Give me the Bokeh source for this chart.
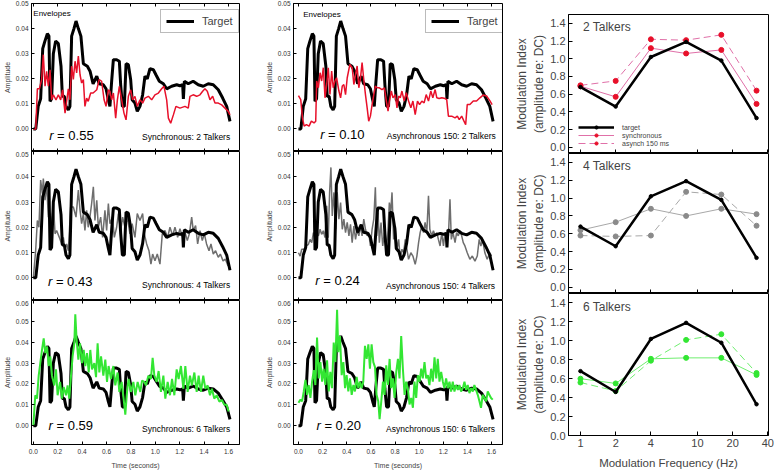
from bokeh.plotting import figure
from bokeh.layouts import row, column
from bokeh.models import (FixedTicker, NumeralTickFormatter, LinearAxis, Legend,
                          LegendItem, Label, Range1d, CustomJSTickFormatter)
from bokeh.embed import file_html
from bokeh.resources import INLINE

FONT = "Liberation Sans"

# ---------------- envelope data (time s, amplitude) ----------------
target_env = [(0.00, 0.000), (0.02, 0.000), (0.04, 0.009), (0.06, 0.012), (0.077, 0.032), (0.095, 0.035),
              (0.115, 0.038), (0.128, 0.037), (0.137, 0.011), (0.15, 0.012), (0.164, 0.030), (0.183, 0.035),
              (0.205, 0.034), (0.227, 0.025), (0.238, 0.013), (0.254, 0.013), (0.268, 0.009), (0.287, 0.0076),
              (0.30, 0.009), (0.314, 0.037), (0.333, 0.040), (0.35, 0.043), (0.369, 0.040), (0.39, 0.037),
              (0.41, 0.026), (0.443, 0.025), (0.465, 0.023), (0.49, 0.018), (0.52, 0.021), (0.54, 0.018),
              (0.574, 0.0176), (0.596, 0.016), (0.615, 0.0116), (0.628, 0.009), (0.642, 0.019), (0.656, 0.0276),
              (0.683, 0.0276), (0.705, 0.027), (0.716, 0.0176), (0.73, 0.009), (0.746, 0.009), (0.76, 0.026),
              (0.779, 0.0256), (0.798, 0.0196), (0.81, 0.0116), (0.833, 0.0103), (0.852, 0.007), (0.874, 0.009),
              (0.896, 0.0136), (0.915, 0.021), (0.934, 0.020), (0.956, 0.024), (0.984, 0.0236), (1.005, 0.0216),
              (1.033, 0.019), (1.066, 0.018), (1.093, 0.016), (1.134, 0.017), (1.175, 0.0176), (1.202, 0.0172),
              (1.224, 0.0176), (1.23, 0.012), (1.238, 0.019), (1.27, 0.018), (1.31, 0.019), (1.352, 0.0176),
              (1.393, 0.017), (1.434, 0.018), (1.475, 0.0176), (1.516, 0.0156), (1.552, 0.0123), (1.585, 0.009),
              (1.612, 0.003)]

sync2_env = [(0.00, 0.000), (0.02, 0.000), (0.033, 0.016), (0.05, 0.016), (0.068, 0.0196), (0.082, 0.0296),
             (0.096, 0.017), (0.109, 0.023), (0.123, 0.017), (0.137, 0.0236), (0.15, 0.0116), (0.164, 0.0136),
             (0.186, 0.0116), (0.205, 0.0136), (0.224, 0.0116), (0.24, 0.0156), (0.26, 0.0063), (0.273, 0.011),
             (0.287, 0.016), (0.30, 0.0116), (0.314, 0.025), (0.328, 0.0197), (0.342, 0.027), (0.355, 0.0223),
             (0.369, 0.029), (0.383, 0.0216), (0.396, 0.0183), (0.41, 0.0197), (0.423, 0.009), (0.437, 0.0123),
             (0.45, 0.011), (0.47, 0.0143), (0.49, 0.0143), (0.52, 0.0156), (0.54, 0.0197), (0.56, 0.019),
             (0.58, 0.0116), (0.596, 0.009), (0.615, 0.0156), (0.628, 0.015), (0.642, 0.0116), (0.656, 0.0143),
             (0.675, 0.0043), (0.689, 0.0116), (0.705, 0.017), (0.724, 0.0116), (0.743, 0.0063), (0.76, 0.0036),
             (0.779, 0.013), (0.798, 0.0156), (0.814, 0.0116), (0.833, 0.013), (0.852, 0.009), (0.874, 0.0116),
             (0.896, 0.0103), (0.915, 0.0123), (0.943, 0.013), (0.97, 0.0116), (0.997, 0.0136), (1.025, 0.0143),
             (1.052, 0.016), (1.071, 0.017), (1.093, 0.0116), (1.107, 0.0043), (1.126, 0.0023), (1.148, 0.0056),
             (1.169, 0.009), (1.202, 0.0083), (1.243, 0.009), (1.27, 0.0083), (1.284, 0.013), (1.31, 0.0136),
             (1.339, 0.013), (1.366, 0.0136), (1.388, 0.015), (1.407, 0.016), (1.426, 0.015), (1.448, 0.0116),
             (1.47, 0.013), (1.489, 0.0103), (1.516, 0.0103), (1.544, 0.0096), (1.571, 0.0083), (1.598, 0.007),
             (1.612, 0.0056)]

sync4_env = [(0.00, 0.000), (0.019, 0.0107), (0.033, 0.0227), (0.046, 0.020), (0.06, 0.0387), (0.074, 0.0333),
             (0.082, 0.0393), (0.096, 0.0307), (0.109, 0.0373), (0.123, 0.024), (0.137, 0.0254), (0.15, 0.020),
             (0.164, 0.030), (0.178, 0.0174), (0.191, 0.0187), (0.213, 0.016), (0.232, 0.0134), (0.246, 0.016),
             (0.26, 0.0114), (0.273, 0.0134), (0.287, 0.0107), (0.306, 0.028), (0.328, 0.028), (0.35, 0.024),
             (0.369, 0.0347), (0.383, 0.0267), (0.396, 0.0214), (0.41, 0.0254), (0.423, 0.0187), (0.437, 0.0267),
             (0.45, 0.020), (0.464, 0.024), (0.478, 0.0294), (0.492, 0.036), (0.505, 0.0227), (0.52, 0.0307),
             (0.533, 0.020), (0.552, 0.024), (0.568, 0.016), (0.587, 0.0267), (0.601, 0.0187), (0.615, 0.0294),
             (0.628, 0.0214), (0.648, 0.024), (0.664, 0.016), (0.683, 0.020), (0.697, 0.0254), (0.716, 0.0187),
             (0.732, 0.024), (0.751, 0.020), (0.77, 0.024), (0.792, 0.0174), (0.81, 0.0214), (0.833, 0.016),
             (0.852, 0.0254), (0.874, 0.0227), (0.896, 0.0254), (0.91, 0.0174), (0.929, 0.0134), (0.948, 0.0107),
             (0.964, 0.0054), (0.978, 0.0094), (0.997, 0.0067), (1.016, 0.0094), (1.038, 0.0054), (1.057, 0.0174),
             (1.079, 0.0187), (1.101, 0.016), (1.12, 0.020), (1.142, 0.0167), (1.161, 0.020), (1.183, 0.016),
             (1.202, 0.0194), (1.224, 0.016), (1.243, 0.018), (1.262, 0.0147), (1.279, 0.0174), (1.298, 0.024),
             (1.311, 0.0187), (1.33, 0.0207), (1.347, 0.0134), (1.366, 0.0187), (1.385, 0.0147), (1.402, 0.0174),
             (1.42, 0.0134), (1.44, 0.0107), (1.456, 0.0134), (1.475, 0.0094), (1.494, 0.0107), (1.516, 0.0081),
             (1.533, 0.0094), (1.555, 0.0067), (1.574, 0.0074), (1.596, 0.0047)]

sync6_env = [(0.00, 0.000), (0.016, 0.0146), (0.03, 0.013), (0.044, 0.024), (0.057, 0.030), (0.071, 0.0363),
             (0.085, 0.0418), (0.098, 0.0348), (0.112, 0.038), (0.126, 0.0286), (0.139, 0.0332), (0.153, 0.024),
             (0.172, 0.0193), (0.186, 0.027), (0.199, 0.0146), (0.219, 0.021), (0.235, 0.013), (0.249, 0.0185),
             (0.268, 0.0146), (0.281, 0.0193), (0.295, 0.013), (0.309, 0.024), (0.322, 0.0332), (0.336, 0.0395),
             (0.344, 0.0534), (0.355, 0.041), (0.369, 0.0317), (0.383, 0.0395), (0.399, 0.030), (0.413, 0.0363),
             (0.426, 0.0286), (0.44, 0.0348), (0.454, 0.0255), (0.467, 0.0363), (0.481, 0.027), (0.50, 0.030),
             (0.514, 0.0233), (0.527, 0.0395), (0.541, 0.0255), (0.555, 0.0332), (0.574, 0.024), (0.59, 0.0317),
             (0.604, 0.021), (0.617, 0.0286), (0.637, 0.0224), (0.656, 0.0286), (0.672, 0.0193), (0.691, 0.0255),
             (0.705, 0.0162), (0.724, 0.021), (0.74, 0.013), (0.754, 0.0053), (0.768, 0.0162), (0.781, 0.0224),
             (0.80, 0.0162), (0.82, 0.021), (0.836, 0.0146), (0.855, 0.021), (0.877, 0.0162), (0.891, 0.0216),
             (0.91, 0.021), (0.923, 0.0193), (0.943, 0.024), (0.964, 0.0224), (0.978, 0.0325), (0.992, 0.024),
             (1.011, 0.021), (1.027, 0.0262), (1.046, 0.0162), (1.066, 0.024), (1.082, 0.013), (1.101, 0.021),
             (1.12, 0.0146), (1.137, 0.0224), (1.156, 0.0146), (1.175, 0.027), (1.191, 0.0224), (1.21, 0.0286),
             (1.23, 0.0177), (1.246, 0.0286), (1.265, 0.0162), (1.284, 0.024), (1.30, 0.0193), (1.32, 0.0255),
             (1.339, 0.0162), (1.355, 0.024), (1.374, 0.0162), (1.393, 0.024), (1.41, 0.0177), (1.429, 0.0193),
             (1.448, 0.0146), (1.464, 0.0177), (1.483, 0.013), (1.503, 0.0146), (1.525, 0.0115), (1.546, 0.0123),
             (1.566, 0.010), (1.585, 0.010), (1.601, 0.0068)]

async2_env = [(0.00, 0.0133), (0.019, 0.0117), (0.033, 0.0044), (0.047, 0.0011), (0.066, 0.0017), (0.088, 0.0011),
              (0.107, 0.0031), (0.129, 0.0024), (0.143, 0.0031), (0.151, 0.0191), (0.165, 0.0164), (0.179, 0.0224),
              (0.192, 0.0191), (0.206, 0.0244), (0.22, 0.0124), (0.234, 0.0177), (0.247, 0.0244), (0.261, 0.0137),
              (0.275, 0.0231), (0.288, 0.0164), (0.302, 0.0191), (0.316, 0.0204), (0.335, 0.0151), (0.349, 0.0124),
              (0.363, 0.0171), (0.376, 0.0177), (0.39, 0.0137), (0.404, 0.0204), (0.426, 0.0257), (0.445, 0.0244),
              (0.459, 0.0177), (0.473, 0.0217), (0.486, 0.0251), (0.50, 0.0164), (0.514, 0.0204), (0.527, 0.0264),
              (0.541, 0.0197), (0.555, 0.0137), (0.569, 0.0084), (0.582, 0.0031), (0.596, 0.0051), (0.61, 0.0097),
              (0.624, 0.0137), (0.637, 0.0171), (0.651, 0.0164), (0.67, 0.0164), (0.692, 0.0157), (0.712, 0.0164),
              (0.728, 0.0111), (0.742, 0.0071), (0.753, 0.0111), (0.769, 0.0151), (0.783, 0.0124), (0.802, 0.0137),
              (0.816, 0.0084), (0.83, 0.0131), (0.843, 0.0124), (0.857, 0.0151), (0.876, 0.0111), (0.893, 0.0144),
              (0.912, 0.0111), (0.931, 0.0084), (0.948, 0.0111), (0.967, 0.0057), (0.986, 0.0111), (1.003, 0.0097),
              (1.022, 0.0111), (1.041, 0.0104), (1.058, 0.0137), (1.077, 0.0111), (1.096, 0.0151), (1.113, 0.0124),
              (1.132, 0.0157), (1.146, 0.0124), (1.165, 0.0121), (1.187, 0.0124), (1.214, 0.0121), (1.228, 0.0117),
              (1.242, 0.0051), (1.269, 0.0051), (1.297, 0.0044), (1.316, 0.0051), (1.332, 0.0037), (1.352, 0.0051),
              (1.371, 0.0031), (1.385, 0.0017), (1.398, 0.0097), (1.42, 0.0097), (1.448, 0.0111), (1.475, 0.0111),
              (1.503, 0.0124), (1.53, 0.0135), (1.558, 0.0131), (1.585, 0.0113), (1.604, 0.0097)]

async4_env = [(0.00, 0.0099), (0.014, 0.0086), (0.027, 0.0113), (0.047, 0.0113), (0.066, 0.0126), (0.082, 0.0132),
              (0.096, 0.0152), (0.11, 0.0139), (0.124, 0.0179), (0.137, 0.0159), (0.151, 0.0179), (0.165, 0.0166),
              (0.179, 0.0192), (0.192, 0.0172), (0.206, 0.0186), (0.22, 0.0159), (0.234, 0.0285), (0.247, 0.0159),
              (0.258, 0.0338), (0.269, 0.0437), (0.28, 0.0245), (0.294, 0.0338), (0.308, 0.0192), (0.321, 0.0338),
              (0.335, 0.0232), (0.349, 0.0298), (0.363, 0.0192), (0.376, 0.0232), (0.39, 0.0179), (0.404, 0.0219),
              (0.418, 0.0166), (0.431, 0.0212), (0.445, 0.0139), (0.459, 0.0205), (0.473, 0.0152), (0.486, 0.0192),
              (0.50, 0.0166), (0.514, 0.0205), (0.527, 0.0166), (0.541, 0.0232), (0.555, 0.0192), (0.569, 0.0166),
              (0.582, 0.0179), (0.596, 0.0126), (0.61, 0.0192), (0.624, 0.0232), (0.637, 0.0358), (0.648, 0.0166),
              (0.659, 0.0258), (0.67, 0.0139), (0.684, 0.0219), (0.698, 0.0126), (0.712, 0.0179), (0.725, 0.0113),
              (0.739, 0.0166), (0.753, 0.0298), (0.764, 0.0258), (0.775, 0.0338), (0.788, 0.0152), (0.802, 0.0205),
              (0.816, 0.0113), (0.83, 0.0152), (0.843, 0.0073), (0.857, 0.0113), (0.871, 0.0099), (0.885, 0.0152),
              (0.898, 0.0113), (0.912, 0.0073), (0.931, 0.0099), (0.948, 0.0086), (0.967, 0.0053), (0.981, 0.0086),
              (0.995, 0.0139), (1.008, 0.0179), (1.022, 0.0205), (1.036, 0.0179), (1.049, 0.0219), (1.063, 0.0179),
              (1.077, 0.0325), (1.088, 0.0192), (1.104, 0.0166), (1.118, 0.0186), (1.132, 0.0166), (1.146, 0.0179),
              (1.159, 0.0152), (1.173, 0.0126), (1.187, 0.0179), (1.201, 0.0126), (1.214, 0.0179), (1.228, 0.0139),
              (1.242, 0.0166), (1.255, 0.0311), (1.266, 0.0152), (1.28, 0.0179), (1.297, 0.0139), (1.31, 0.0179),
              (1.324, 0.0166), (1.338, 0.0186), (1.352, 0.0166), (1.365, 0.0139), (1.379, 0.0126), (1.398, 0.0099),
              (1.42, 0.0073), (1.44, 0.0086), (1.462, 0.0066), (1.481, 0.0086), (1.497, 0.0152), (1.511, 0.0126),
              (1.525, 0.0152), (1.544, 0.0099), (1.563, 0.0073), (1.585, 0.0099), (1.599, 0.0086)]

async6_env = [(0.00, 0.011), (0.017, 0.0125), (0.03, 0.0117), (0.044, 0.0164), (0.058, 0.022), (0.072, 0.0148),
              (0.085, 0.0195), (0.099, 0.0133), (0.113, 0.0211), (0.127, 0.0266), (0.14, 0.0195), (0.154, 0.0422),
              (0.168, 0.0227), (0.182, 0.0305), (0.196, 0.0211), (0.209, 0.0273), (0.223, 0.0195), (0.237, 0.0313),
              (0.251, 0.0164), (0.264, 0.0258), (0.278, 0.018), (0.292, 0.0398), (0.306, 0.0305), (0.32, 0.0555),
              (0.33, 0.0352), (0.344, 0.043), (0.358, 0.0242), (0.372, 0.0305), (0.386, 0.018), (0.399, 0.0242),
              (0.413, 0.0164), (0.427, 0.0227), (0.441, 0.0148), (0.455, 0.0195), (0.468, 0.0164), (0.482, 0.0234),
              (0.496, 0.018), (0.51, 0.0211), (0.523, 0.018), (0.537, 0.0211), (0.551, 0.0383), (0.565, 0.032),
              (0.579, 0.039), (0.592, 0.0273), (0.606, 0.039), (0.62, 0.0305), (0.634, 0.0281), (0.647, 0.0148),
              (0.661, 0.0117), (0.672, 0.0031), (0.686, 0.0117), (0.70, 0.0211), (0.713, 0.0148), (0.727, 0.0289),
              (0.741, 0.0195), (0.755, 0.032), (0.768, 0.018), (0.782, 0.0227), (0.796, 0.0133), (0.81, 0.0258),
              (0.824, 0.032), (0.837, 0.0227), (0.851, 0.043), (0.865, 0.0273), (0.879, 0.0148), (0.892, 0.0211),
              (0.906, 0.018), (0.92, 0.0102), (0.934, 0.0133), (0.948, 0.0086), (0.961, 0.0211), (0.975, 0.0133),
              (0.989, 0.0242), (1.003, 0.0211), (1.017, 0.0273), (1.03, 0.0227), (1.044, 0.0305), (1.058, 0.0227),
              (1.072, 0.0242), (1.085, 0.0195), (1.099, 0.0273), (1.113, 0.0211), (1.127, 0.0328), (1.141, 0.0227),
              (1.154, 0.032), (1.168, 0.0211), (1.182, 0.0258), (1.196, 0.0211), (1.209, 0.018), (1.223, 0.0227),
              (1.237, 0.018), (1.251, 0.0211), (1.264, 0.0164), (1.278, 0.0211), (1.292, 0.0164), (1.306, 0.0195),
              (1.32, 0.0172), (1.333, 0.0195), (1.347, 0.0164), (1.361, 0.018), (1.375, 0.0211), (1.388, 0.0172),
              (1.402, 0.0195), (1.416, 0.0156), (1.43, 0.018), (1.444, 0.0164), (1.457, 0.0195), (1.471, 0.0172),
              (1.485, 0.0148), (1.499, 0.0117), (1.512, 0.0086), (1.526, 0.0148), (1.54, 0.0133), (1.554, 0.0117),
              (1.568, 0.0164), (1.581, 0.0148), (1.595, 0.0133), (1.609, 0.0125)]

time_ticks = [0.0, 0.2, 0.4, 0.6, 0.8, 1.0, 1.2, 1.4, 1.6]
amp_ticks_5 = [0.00, 0.01, 0.02, 0.03, 0.04, 0.05]
amp_ticks_6 = [0.00, 0.01, 0.02, 0.03, 0.04, 0.05, 0.06]

# ---------------- modulation index data ----------------
mod_freq = [1, 2, 4, 8, 16, 32]
freq_ticks = [1, 2, 4, 10, 20, 40]
mi_ticks = [0.0, 0.2, 0.4, 0.6, 0.8, 1.0, 1.2, 1.4]

mi_target = [0.68, 0.46, 1.02, 1.19, 0.98, 0.33]
mi_sync_2 = [0.69, 0.57, 1.12, 1.06, 1.10, 0.49]
mi_async_2 = [0.70, 0.75, 1.22, 1.21, 1.27, 0.64]
mi_sync_4 = [0.64, 0.73, 0.88, 0.80, 0.88, 0.82]
mi_async_4 = [0.58, 0.57, 0.58, 1.07, 1.04, 0.69]
mi_sync_6 = [0.60, 0.55, 0.81, 0.82, 0.82, 0.64]
mi_async_6 = [0.56, 0.47, 0.79, 1.01, 1.07, 0.66]

RED = "#e8102a"
PINK = "#e070a8"
GRAY = "#6e6e6e"
GRAY_LINE = "#a8a8a8"
GRAY_MARK = "#8a8a8a"
GREEN = "#33e633"
GREEN_LINE = "#70ee70"

BLANK = CustomJSTickFormatter(code="return ''")
ENV_Y0 = -0.009


def unz(pairs):
    return [a for a, _ in pairs], [b for _, b in pairs]


def env_panel(width, height, bl, br, bt, bb, x0, y_end, yticks, show_x):
    p = figure(width=width, height=height, output_backend="svg", toolbar_location=None,
               x_range=Range1d(x0, 1.69), y_range=Range1d(ENV_Y0, y_end),
               min_border_left=bl, min_border_right=br, min_border_top=bt, min_border_bottom=bb)
    p.xgrid.visible = False
    p.ygrid.visible = False
    p.outline_line_color = "black"
    p.outline_line_width = 1
    for ax in p.xaxis:
        ax.ticker = FixedTicker(ticks=time_ticks)
        ax.major_tick_in = 3
        ax.major_tick_out = 0
        ax.minor_tick_line_color = None
        ax.major_label_text_font = FONT
        ax.major_label_text_color = "#333333"
        if show_x:
            ax.formatter = NumeralTickFormatter(format="0.0")
            ax.major_label_text_font_size = "6.5px"
            ax.major_label_standoff = 4
            ax.axis_label = "Time (seconds)"
            ax.axis_label_text_font = FONT
            ax.axis_label_text_font_size = "7px"
            ax.axis_label_text_font_style = "normal"
            ax.axis_label_standoff = 5
        else:
            ax.formatter = BLANK
            ax.major_label_standoff = 0
            ax.fixed_location = ENV_Y0
    for ax in p.yaxis:
        ax.ticker = FixedTicker(ticks=yticks)
        ax.formatter = NumeralTickFormatter(format="0.00")
        ax.major_tick_in = 3
        ax.major_tick_out = 0
        ax.minor_tick_line_color = None
        ax.major_label_text_font = FONT
        ax.major_label_text_font_size = "6.5px"
        ax.major_label_text_color = "#333333"
        ax.major_label_standoff = 3
        ax.axis_label = "Amplitude"
        ax.axis_label_text_font = FONT
        ax.axis_label_text_font_size = "7px"
        ax.axis_label_text_font_style = "normal"
        ax.axis_label_standoff = 2
    top = LinearAxis(ticker=FixedTicker(ticks=time_ticks), major_tick_in=3, major_tick_out=0,
                     minor_tick_line_color=None, formatter=BLANK, major_label_standoff=0,
                     fixed_location=y_end)
    p.add_layout(top, "above")
    return p


def add_txt(p, x, y, text, size, align="left", style="normal"):
    p.add_layout(Label(x=x, y=y, text=text, text_font=FONT, text_font_size=size,
                       text_align=align, text_baseline="middle", text_font_style=style,
                       text_color="black"))


def env_content(p, comp, color, width, comp_on_top, r_text, r_pos, cond_text, cond_pos, top_panel, leg_loc):
    tt, ta = unz(target_env)
    ct, ca = unz(comp)
    if comp_on_top:
        tr = p.line(tt, ta, line_color="black", line_width=3)
        p.line(ct, ca, line_color=color, line_width=width)
    else:
        p.line(ct, ca, line_color=color, line_width=width)
        tr = p.line(tt, ta, line_color="black", line_width=3)
    rx, eqx, ry = r_pos
    add_txt(p, rx, ry, "r", "13px", style="italic")
    add_txt(p, eqx, ry, "= " + r_text, "13px")
    add_txt(p, cond_pos[0], cond_pos[1], cond_text, "8.5px", align="right")
    if top_panel:
        add_txt(p, top_panel[0], top_panel[1], "Envelopes", "8px")
        leg = Legend(items=[LegendItem(label="Target", renderers=[tr])], location=leg_loc,
                     label_text_font=FONT, label_text_font_size="11px", glyph_width=28,
                     glyph_height=12, label_height=12, padding=5, margin=0, spacing=0,
                     label_standoff=8, border_line_color="#777777", border_line_width=1,
                     background_fill_color="white", background_fill_alpha=1)
        p.add_layout(leg)


# ---- column widths (page has no margin: x from 0) ----
L_W, M_W, R_W = 262, 248, 264

# ---- left column: frame x 31..239 ----
a1 = env_panel(L_W, 151, 31, 23, 3, 0, -0.015, 0.05, amp_ticks_5, False)
env_content(a1, sync2_env, RED, 1.5, True, "0.55", (0.13, 0.195, -0.0028), "Synchronous: 2 Talkers",
            (1.615, -0.0032), (0.0, 0.0462), (129, 118))
a2 = env_panel(L_W, 149, 31, 23, 0, 0, -0.015, 0.05, amp_ticks_5, False)
env_content(a2, sync4_env, GRAY, 1.5, False, "0.43", (0.12, 0.185, -0.0016), "Synchronous: 4 Talkers",
            (1.615, -0.0028), None, None)
a3 = env_panel(L_W, 171, 31, 23, 0, 22, -0.015, 0.06, amp_ticks_6, True)
env_content(a3, sync6_env, GREEN, 2, True, "0.59", (0.125, 0.19, 0.0), "Synchronous: 6 Talkers",
            (1.615, -0.0014), None, None)

# ---- middle column: frame x 292..502 ----
b1 = env_panel(M_W, 151, 30, 8, 3, 0, -0.041, 0.05, amp_ticks_5, False)
env_content(b1, async2_env, RED, 1.5, True, "0.10", (0.18, 0.245, -0.0024), "Asynchronous 150: 2 Talkers",
            (1.635, -0.0028), (0.04, 0.0458), (132, 118))
b2 = env_panel(M_W, 149, 30, 8, 0, 0, -0.041, 0.05, amp_ticks_5, False)
env_content(b2, async4_env, GRAY, 1.5, False, "0.24", (0.14, 0.205, -0.0012), "Asynchronous 150: 4 Talkers",
            (1.63, -0.0032), None, None)
b3 = env_panel(M_W, 171, 30, 8, 0, 22, -0.041, 0.06, amp_ticks_6, True)
env_content(b3, async6_env, GREEN, 2, True, "0.20", (0.15, 0.215, 0.0), "Asynchronous 150: 6 Talkers",
            (1.63, -0.0014), None, None)


# ---- right column: frame x 568..768 ----
def mi_panel(height, bt, bb, show_x, y0):
    p = figure(width=R_W, height=height, output_backend="svg", toolbar_location=None,
               x_axis_type="log", x_range=Range1d(0.79, 40.5), y_range=Range1d(y0, 1.5),
               min_border_left=58, min_border_right=6, min_border_top=bt, min_border_bottom=bb)
    p.xgrid.visible = False
    p.ygrid.visible = False
    p.outline_line_color = "black"
    for ax in p.xaxis:
        ax.ticker = FixedTicker(ticks=freq_ticks)
        ax.major_tick_in = 4
        ax.major_tick_out = 0
        ax.minor_tick_line_color = None
        ax.major_label_text_font = FONT
        if show_x:
            ax.formatter = NumeralTickFormatter(format="0")
            ax.major_label_text_font_size = "11px"
            ax.major_label_standoff = 3
            ax.axis_label = "Modulation Frequency (Hz)"
            ax.axis_label_text_font = FONT
            ax.axis_label_text_font_size = "11.5px"
            ax.axis_label_text_font_style = "normal"
            ax.axis_label_standoff = 7
        else:
            ax.formatter = BLANK
            ax.major_label_standoff = 0
            ax.fixed_location = y0
    for ax in p.yaxis:
        ax.ticker = FixedTicker(ticks=mi_ticks)
        ax.formatter = NumeralTickFormatter(format="0.0")
        ax.major_tick_in = 4
        ax.major_tick_out = 0
        ax.minor_tick_line_color = None
        ax.major_label_text_font = FONT
        ax.major_label_text_font_size = "11px"
        ax.major_label_standoff = 3
        ax.axis_label = "Modulation Index\n(amplitude re: DC)"
        ax.axis_label_text_font = FONT
        ax.axis_label_text_font_size = "12px"
        ax.axis_label_text_font_style = "normal"
        ax.axis_label_standoff = 1
    return p


def mi_content(p, sync, asyn, line_col, mark_col, title, legend=False):
    r_s_l = p.line(mod_freq, sync, line_color=line_col, line_width=1)
    r_s_m = p.scatter(mod_freq, sync, size=5, fill_color=mark_col, line_color=mark_col)
    r_a_l = p.line(mod_freq, asyn, line_color=line_col, line_width=1, line_dash="7 4")
    r_a_m = p.scatter(mod_freq, asyn, size=5, fill_color=mark_col, line_color=mark_col)
    r_t_l = p.line(mod_freq, mi_target, line_color="black", line_width=2.5)
    r_t_m = p.scatter(mod_freq, mi_target, size=3.5, fill_color="black", line_color="black")
    p.add_layout(Label(x=1.05, y=1.355, text=title, text_font=FONT, text_font_size="12px",
                       text_baseline="middle", text_align="left"))
    if legend:
        leg = Legend(items=[LegendItem(label="target", renderers=[r_t_l, r_t_m]),
                            LegendItem(label="synchronous", renderers=[r_s_l, r_s_m]),
                            LegendItem(label="asynch 150 ms", renderers=[r_a_l, r_a_m])],
                     location=(10, 6), label_text_font=FONT, label_text_font_size="7px",
                     glyph_width=36, glyph_height=8, label_height=8, padding=0, margin=0,
                     spacing=0, label_standoff=8, border_line_color=None,
                     background_fill_alpha=0)
        p.add_layout(leg)


c1 = mi_panel(153, 14, 0, False, -0.07)
mi_content(c1, mi_sync_2, mi_async_2, PINK, RED, "2 Talkers", legend=True)
c2 = mi_panel(140, 0, 0, False, -0.07)
mi_content(c2, mi_sync_4, mi_async_4, GRAY_LINE, GRAY_MARK, "4 Talkers")
c3 = mi_panel(178, 0, 34, True, 0.0)
mi_content(c3, mi_sync_6, mi_async_6, GREEN_LINE, GREEN, "6 Talkers")

layout = row(column(a1, a2, a3, spacing=0), column(b1, b2, b3, spacing=0),
             column(c1, c2, c3, spacing=0), spacing=0)

open("out.html", "w").write(file_html(layout, INLINE))
